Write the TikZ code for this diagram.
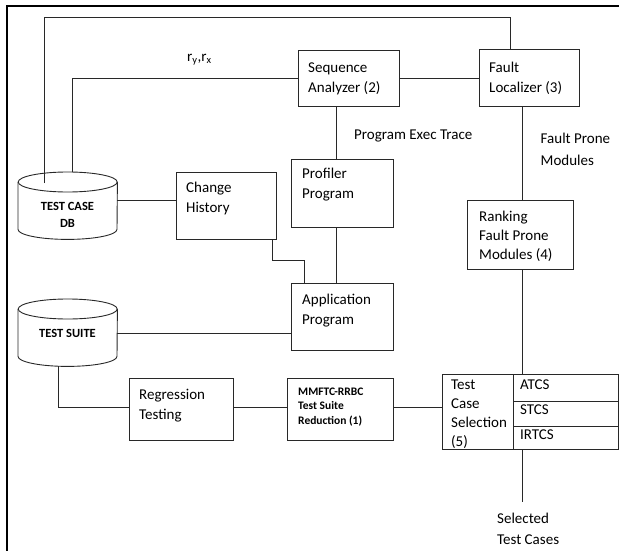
\documentclass[tikz,border=0pt]{standalone}
\usepackage{fontspec}
\setmainfont{Carlito}
\usetikzlibrary{calc}
\definecolor{linec}{RGB}{40,40,40}
\newcommand\mystrut[1]{\rule{0pt}{#1}}
\tikzset{
  box/.style={draw=linec, line width=0.9pt, fill=white, inner sep=0pt, anchor=north west},
  conn/.style={draw=linec, line width=0.9pt},
  txt/.style={inner sep=0pt, anchor=north west, align=left, text=black, font=\fontsize{15}{20}\selectfont},
  smalltxt/.style={inner sep=0pt, align=center, anchor=north, text=black, font=\fontsize{12.5}{17}\selectfont\bfseries},
  mmtxt/.style={inner sep=0pt, align=left, anchor=north west, text=black, font=\fontsize{11.5}{14.5}\selectfont\bfseries},
}
\begin{document}
\begin{tikzpicture}[x=1pt,y=-1pt]
\useasboundingbox (0,0) rectangle (619,551);
% frame (partial)
\draw[line width=2pt] (7,551) -- (7,6) -- (619,6);

% boxes
\node[box, minimum width=101pt, minimum height=56pt] (sa) at (298,50) {};
\node[box, minimum width=100pt, minimum height=57pt] (fl) at (479,49) {};
\node[box, minimum width=102pt, minimum height=68pt] (pp) at (291,159) {};
\node[box, minimum width=100pt, minimum height=67pt] (ch) at (176,172) {};
\node[box, minimum width=102pt, minimum height=67pt] (app) at (291,283) {};
\node[box, minimum width=106pt, minimum height=69pt] (rk) at (467,200) {};
\node[box, minimum width=104pt, minimum height=62pt] (rt) at (129,378) {};
\node[box, minimum width=106pt, minimum height=62pt] (mm) at (287,378) {};
\node[box, minimum width=176pt, minimum height=75pt] (tcs) at (442,374) {};

% cylinders
\node[inner sep=0pt, minimum width=99pt, minimum height=67pt, anchor=north west] (db) at (18,172) {};
\node[inner sep=0pt, minimum width=99pt, minimum height=67pt, anchor=north west] (ts) at (18,299) {};
\foreach \c in {db,ts}{
  \draw[conn, fill=white] ($(\c.north west)+(0,10)$) -- ($(\c.south west)+(0,-10)$)
     arc[start angle=180, end angle=0, x radius=49.5, y radius=10] -- ($(\c.north east)+(0,10)$);
  \draw[conn, fill=white] ($(\c.north)+(0,10)$) ellipse[x radius=49.5, y radius=10];
}

% table inner lines
\coordinate (xd) at (513,0);
\coordinate (y401) at (0,401);
\coordinate (y426) at (0,426);
\draw[conn] (tcs.north -| xd) -- (tcs.south -| xd);
\draw[conn] (xd |- y401) -- (tcs.east |- y401);
\draw[conn] (xd |- y426) -- (tcs.east |- y426);

% connectors
\coordinate (dbA) at (44,183);
\coordinate (dbB) at (72,172);
\coordinate (topR) at (510,17);
\draw[conn] (dbA) |- (topR) -- (topR |- fl.north);
\draw[conn] (dbB) |- (sa.west);
\draw[conn] (sa.east) -- (sa.east -| fl.west);
\coordinate (xa) at (336,0);
\draw[conn] (sa.south -| xa) -- (pp.north -| xa);
\draw[conn] (pp.south -| xa) -- (app.north -| xa);
\coordinate (xb) at (522,0);
\draw[conn] (fl.south -| xb) -- (rk.north -| xb);
\draw[conn] (rk.south -| xb) -- (tcs.north -| xb);
\coordinate (sel) at (522,502);
\draw[conn] (tcs.south -| sel) -- (sel);
\coordinate (y200) at (0,200);
\draw[conn] (db.east |- y200) -- (ch.west |- y200);
\coordinate (k1) at (272,260);
\coordinate (k2) at (304,260);
\draw[conn] (ch.south -| k1) -- (k1) -- (k2) -- (app.north -| k2);
\coordinate (y333) at (0,333);
\draw[conn] (ts.east |- y333) -- (app.west |- y333);
\coordinate (k3) at (58,407);
\draw[conn] (ts.south -| k3) -- (k3) -- (rt.west |- k3);
\draw[conn] (rt.east |- k3) -- (mm.west |- k3);
\draw[conn] (mm.east |- k3) -- (tcs.west |- k3);

% texts
\node[txt] (saT) at (308,59) {\mystrut{13pt}Sequence\\Analyzer (2)};
\node[txt] (flT) at (489,59) {\mystrut{13pt}Fault\\Localizer (3)};
\node[txt] (petT) at (354,126.5) {\mystrut{13pt}Program Exec Trace};
\node[txt] (fpmT) at (540.5,130.5) {\mystrut{13pt}Fault Prone\\[1.5pt]Modules};
\node[txt] (ppT) at (302,165) {\mystrut{13pt}Profiler\\Program};
\node[txt] (chT) at (186,179) {\mystrut{13pt}Change\\History};
\node[txt] (appT) at (302,291) {\mystrut{13pt}Application\\Program};
\node[txt, font=\fontsize{15}{19}\selectfont] (rkT) at (479,208) {\mystrut{13pt}Ranking\\Fault Prone\\Modules (4)};
\node[txt] (rtT) at (139,386) {\mystrut{13pt}Regression\\Testing};
\node[mmtxt] (mmT) at (298,385) {\mystrut{10pt}MMFTC-RRBC\\Test Suite\\Reduction (1)};
\node[txt, font=\fontsize{15}{19}\selectfont] (tcsT) at (451,376) {\mystrut{13pt}Test\\Case\\Selection\\(5)};
\node[txt] (atT) at (520,376) {\mystrut{13pt}ATCS};
\node[txt] (stT) at (520,401) {\mystrut{13pt}STCS};
\node[txt] (irT) at (520,426) {\mystrut{13pt}IRTCS};
\node[txt, font=\fontsize{15}{21}\selectfont] (selT) at (497,510) {\mystrut{13pt}Selected\\Test Cases};
\node[smalltxt] (dbT) at (67.5,200) {\mystrut{10pt}TEST CASE\\DB};
\node[smalltxt] (tsT) at (67.5,327.5) {\mystrut{10pt}TEST SUITE};
\node[txt] (rT) at (187,48) {\mystrut{13pt}r\textsubscript{y},r\textsubscript{x}};
\end{tikzpicture}
\end{document}
